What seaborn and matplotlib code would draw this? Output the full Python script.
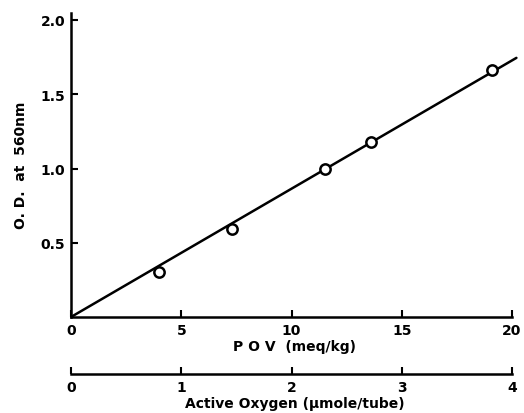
#!/usr/bin/env python3

# libraries
import matplotlib
matplotlib.use('Agg')

import matplotlib.pyplot as plt
import numpy as np
import pandas as pd
import seaborn as sns

# ------------------------------------------------------------
#     Data
# ------------------------------------------------------------

pov = [4.0, 7.3, 11.5, 13.6, 19.1]          # meq/kg
od = [0.30, 0.59, 1.00, 1.18, 1.66]         # O.D. at 560 nm

# the drawn calibration line, start and end point
fit_pov = [0.0, 20.2]
fit_od = [0.0, 1.745]

x_ticks = [0, 5, 10, 15, 20]
y_ticks = [0.5, 1.0, 1.5, 2.0]
oxy_ticks = [0, 1, 2, 3, 4]
pov_per_oxy = 5.0   # 4 umole/tube == 20 meq/kg

# ------------------------------------------------------------
#     Plotting
# ------------------------------------------------------------

sns.set_style("ticks")
plt.rcParams['font.family'] = ['DejaVu Sans']
plt.rcParams['font.weight'] = 'bold'
plt.rcParams['font.stretch'] = 'normal'
for k in ['text.color', 'axes.labelcolor', 'xtick.color', 'ytick.color', 'axes.edgecolor']:
    plt.rcParams[k] = 'black'

fig = plt.figure(figsize=(5.24, 4.14), dpi=100)
W, H = 524.0, 414.0
px_x = 22.05    # pixels per meq/kg
px_y = 148.5    # pixels per O.D. unit
x0, y0 = 71.0, 318.0
xmax, ymax = 20.3, 2.05
fs = 10
font = dict(family='DejaVu Sans', weight='bold', stretch='normal', size=fs)

ax = fig.add_axes([x0 / W, (H - y0) / H, xmax * px_x / W, ymax * px_y / H])

df = pd.DataFrame({'pov': pov, 'od': od})
line = pd.DataFrame({'pov': fit_pov, 'od': fit_od})

sns.lineplot(data=line, x='pov', y='od', ax=ax, color='black', lw=1.8, zorder=2)
sns.scatterplot(data=df, x='pov', y='od', ax=ax, marker='o', s=55,
                facecolor='white', edgecolor='black', linewidth=1.8, zorder=3)

ax.set_xlim(0, xmax)
ax.set_ylim(0, ymax)
ax.set_xticks(x_ticks)
ax.set_yticks(y_ticks)
ax.set_xticklabels([str(t) for t in x_ticks], fontdict=font)
ax.set_yticklabels(['{:.1f}'.format(t) for t in y_ticks], fontdict=font)
ax.tick_params(direction='in', length=5, width=1.5, pad=4)
for s in ['top', 'right']:
    ax.spines[s].set_visible(False)
for s in ['left', 'bottom']:
    ax.spines[s].set_linewidth(1.8)
ax.spines['bottom'].set_bounds(0, 20)

ax.set_xlabel('P O V  (meq/kg)', fontdict=font, labelpad=2)
ax.set_ylabel('O. D.  at  560nm', fontdict=font, labelpad=9)

# second scale: active oxygen
sec_y = 375.0
ax2 = fig.add_axes([x0 / W, (H - sec_y) / H, xmax * px_x / W, 0.0001])
ax2.set_xlim(0, xmax / pov_per_oxy)
ax2.set_xticks(oxy_ticks)
ax2.set_xticklabels([str(t) for t in oxy_ticks], fontdict=font)
ax2.set_yticks([])
ax2.tick_params(direction='in', length=5, width=1.5, pad=4)
for s in ['top', 'right', 'left']:
    ax2.spines[s].set_visible(False)
ax2.spines['bottom'].set_linewidth(1.8)
ax2.spines['bottom'].set_bounds(0, 4)
ax2.patch.set_visible(False)
ax2.set_xlabel('Active Oxygen (\u00b5mole/tube)', fontdict=font, labelpad=2)

fig.savefig('out.png', dpi=100)
